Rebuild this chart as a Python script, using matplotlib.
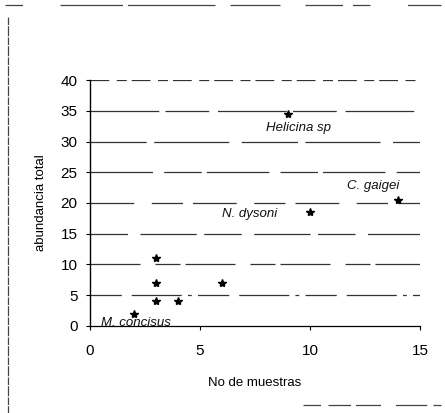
import matplotlib.pyplot as plt
from matplotlib.lines import Line2D

plt.rcParams['font.family'] = ['Liberation Sans', 'DejaVu Sans']

# especies: numero de muestras vs abundancia total
muestras = [2, 3, 3, 3, 4, 6, 9, 10, 14]
abundancia = [2, 11, 7, 4, 4, 7, 34.5, 18.5, 20.5]
etiquetas = ['M. concisus', 'Helicina sp', 'N. dysoni', 'C. gaigei']
etiqueta_x = [0.5, 8.0, 6.0, 11.7]
etiqueta_y = [-0.5, 31.2, 17.3, 21.8]
yticks = [0, 5, 10, 15, 20, 25, 30, 35, 40]
xticks = [0, 5, 10, 15]

fig = plt.figure(figsize=(4.45, 4.13), dpi=100)
ax = fig.add_axes([0.202, 0.211, 0.742, 0.595])

# lineas de division, algo cortadas como en la copia impresa
patrones = [(0, (60, 4, 30, 6)), (0, (25, 8, 40, 5, 3, 5)), (0, (40, 12, 20, 4)),
            (0, (30, 10, 45, 6)), (0, (35, 14, 25, 8)), (0, (50, 9, 30, 4)),
            (0, (45, 6, 60, 10)), (0, (55, 5, 35, 7)), (0, (15, 6, 8, 4))]
for y, ls in zip(yticks[1:], patrones[1:]):
    ax.axhline(y, color='#333333', lw=0.9, ls=ls, zorder=1)

ax.plot(muestras, abundancia, ls='none', marker='*', ms=6, color='black', zorder=3)

for t, x, y in zip(etiquetas, etiqueta_x, etiqueta_y):
    ax.text(x, y, t, fontsize=9.5, style='italic', va='bottom', ha='left', color='#111111')

ax.set_xlim(0, 15)
ax.set_ylim(0, 40)
ax.set_xticks(xticks)
ax.set_yticks(yticks)
ax.tick_params(labelsize=11, length=3, width=0.8, pad=6)
ax.tick_params(axis='x', pad=10)
for s in ['top', 'right']:
    ax.spines[s].set_visible(False)
ax.spines['left'].set_linewidth(1.0)
ax.spines['bottom'].set_linewidth(0.9)
ax.set_ylabel('abundancia total', fontsize=9.5, labelpad=10)
ax.set_xlabel('No de muestras', fontsize=9.5, labelpad=14)

# marco exterior a trazos
marco = [
    ([0.011, 0.99], [0.988, 0.988], (0, (14, 30, 50, 4, 70, 12, 40, 20, 30, 8))),
    ([0.018, 0.018], [0.96, 0.0], (0, (6, 1, 8, 1))),
    ([0.68, 0.99], [0.02, 0.02], (0, (14, 6, 18, 4, 20, 12, 25, 5))),
]
for xs, ys, ls in marco:
    fig.add_artist(Line2D(xs, ys, transform=fig.transFigure, color='#444444',
                          lw=0.9, ls=ls))

fig.savefig('out.png', dpi=100)
